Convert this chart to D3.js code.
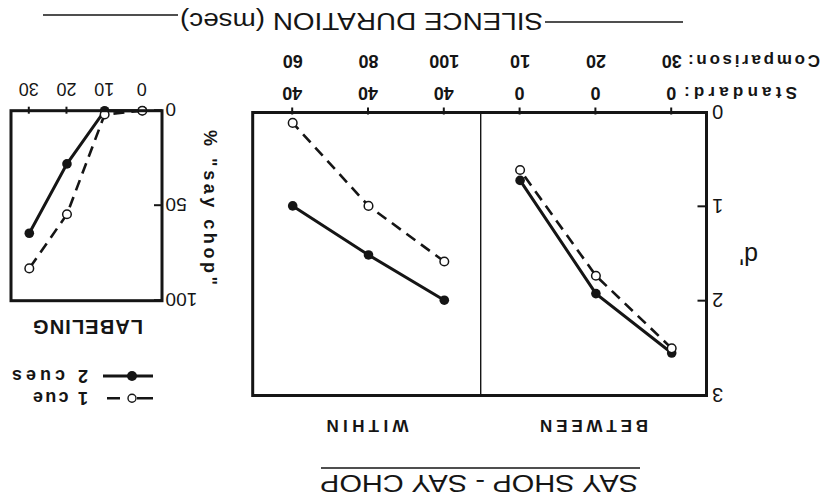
<!DOCTYPE html>
<html><head><meta charset="utf-8">
<script src="https://cdn.jsdelivr.net/npm/d3@7"></script>
<style>
body{margin:0;background:#fff}
svg{display:block;background:#fff}
text{font-family:"Liberation Sans",Arial,Helvetica,sans-serif;fill:#151515}
</style>
</head><body>
<svg id="c" width="839" height="501"></svg>
<script>
// ---- data ----
const mainKeys = ["B30","B20","B10","W100","W80","W60"];
const standardLabels = ["0","0","0","40","40","40"];
const comparisonLabels = ["30","20","10","100","80","60"];
const betweenKeys = ["B30","B20","B10"];
const withinKeys = ["W100","W80","W60"];
const betweenTwoCues = [2.55, 1.92, 0.72];
const betweenOneCue  = [2.50, 1.73, 0.61];
const withinTwoCues  = [1.99, 1.51, 0.99];
const withinOneCue   = [1.58, 0.99, 0.11];
const dPrimeTicks = [0, 1, 2, 3];
const labelKeys = ["0","10","20","30"];
const labelTwoCues = [0, 0, 28, 64.5];
const labelOneCue  = [0, 2, 54.5, 83];
const pctTicks = [0, 50, 100];
const panelNames = ["BETWEEN","WITHIN"];
const legendNames = ["2 cues","1 cue"];

// ---- drawing ----
const ink = "#151515";
const svg = d3.select("#c");
const g = svg.append("g").attr("transform","rotate(180 419.5 250.5)");

function styleAxis(ax){
  ax.attr("font-family",null).attr("font-size",null);
  ax.select(".domain").remove();
  ax.selectAll("line").attr("stroke",ink).attr("stroke-width",2);
  ax.selectAll("text").attr("fill",ink);
}

// main panel
const M = {l:132.5, r:586.3, t:105.5, b:388.5, div:358.3};
const x = d3.scalePoint().domain(mainKeys).range([167.3, 546.3]);
const y = d3.scaleLinear().domain([0,3]).range([M.b, M.t]);

const yAx = g.append("g").attr("transform",`translate(${M.l},0)`)
  .call(d3.axisLeft(y).tickValues(dPrimeTicks).tickFormat(d3.format("d")).tickSize(-9).tickPadding(5.5));
styleAxis(yAx);
yAx.selectAll("text").attr("font-size",20).attr("dy","0.36em");

const xAx = g.append("g").attr("transform",`translate(0,${M.b})`)
  .call(d3.axisBottom(x).tickSize(5).tickFormat(d => standardLabels[mainKeys.indexOf(d)]));
styleAxis(xAx);
xAx.selectAll("line").attr("y1",-2);
xAx.selectAll("text").attr("y",26).attr("dy",0).attr("font-size",18).attr("font-weight","bold");

g.selectAll("text.cmp").data(mainKeys).join("text").attr("class","cmp")
  .attr("x",d=>x(d)).attr("y",446).attr("text-anchor","middle")
  .attr("font-size",18).attr("font-weight","bold")
  .text((d,i)=>comparisonLabels[i]);

g.append("text").attr("x",42).attr("y",414.3).attr("font-size",17).attr("font-weight","bold")
  .attr("textLength",113).attr("lengthAdjust","spacing").text("Standard:");
g.append("text").attr("x",19).attr("y",446).attr("font-size",17).attr("font-weight","bold")
  .attr("textLength",132).attr("lengthAdjust","spacing").text("Comparison:");

const line = d3.line().x(d=>x(d.k)).y(d=>y(d.v));
const groups = [
  {keys:betweenKeys, two:betweenTwoCues, one:betweenOneCue},
  {keys:withinKeys, two:withinTwoCues, one:withinOneCue}
];
groups.forEach(gr=>{
  const two = gr.keys.map((k,i)=>({k, v:gr.two[i]}));
  g.append("path").datum(two).attr("d",line).attr("fill","none").attr("stroke",ink).attr("stroke-width",3);
  g.selectAll(null).data(two).join("circle").attr("cx",d=>x(d.k)).attr("cy",d=>y(d.v)).attr("r",4.8).attr("fill",ink);
});
groups.forEach(gr=>{
  const one = gr.keys.map((k,i)=>({k, v:gr.one[i]}));
  g.append("path").datum(one).attr("d",line).attr("fill","none").attr("stroke",ink).attr("stroke-width",2.6).attr("stroke-dasharray","11,7");
  g.selectAll(null).data(one).join("circle").attr("cx",d=>x(d.k)).attr("cy",d=>y(d.v)).attr("r",4.3).attr("fill","#fff").attr("stroke",ink).attr("stroke-width",1.5);
});

g.append("rect").attr("x",M.l).attr("y",M.t).attr("width",M.r-M.l).attr("height",M.b-M.t)
  .attr("fill","none").attr("stroke",ink).attr("stroke-width",3);
g.append("line").attr("x1",M.div).attr("x2",M.div).attr("y1",M.t).attr("y2",M.b).attr("stroke",ink).attr("stroke-width",1.4);

g.append("text").attr("x",81).attr("y",254).attr("font-size",25).text("d'");

g.append("text").attr("x",245).attr("y",81).attr("text-anchor","middle").attr("font-size",17).attr("font-weight","bold")
  .attr("textLength",108).attr("lengthAdjust","spacing").text(panelNames[0]);
g.append("text").attr("x",471.5).attr("y",81).attr("text-anchor","middle").attr("font-size",17).attr("font-weight","bold")
  .attr("textLength",82).attr("lengthAdjust","spacing").text(panelNames[1]);

// title top (upright)
g.append("text").attr("x",360).attr("y",26).attr("text-anchor","middle").attr("font-size",23)
  .attr("textLength",318).attr("lengthAdjust","spacingAndGlyphs").text("SAY SHOP - SAY CHOP");
g.append("line").attr("x1",199).attr("x2",518).attr("y1",33).attr("y2",33).attr("stroke",ink).attr("stroke-width",1.5);

// silence duration
g.append("text").attr("x",477.5).attr("y",488).attr("text-anchor","middle").attr("font-size",23)
  .attr("textLength",363).attr("lengthAdjust","spacingAndGlyphs").text("SILENCE DURATION (msec)");
g.append("line").attr("x1",156).attr("x2",294).attr("y1",479).attr("y2",479).attr("stroke",ink).attr("stroke-width",1.5);
g.append("line").attr("x1",661).attr("x2",796).attr("y1",486).attr("y2",486).attr("stroke",ink).attr("stroke-width",1.5);

// labeling panel
const L = {l:677, r:828, t:200.3, b:390.3};
const lx = d3.scalePoint().domain(labelKeys).range([696.7, 809.7]);
const ly = d3.scaleLinear().domain([0,100]).range([L.b, L.t]);

const lyAx = g.append("g").attr("transform",`translate(${L.l},0)`)
  .call(d3.axisLeft(ly).tickValues(pctTicks).tickSize(-8).tickPadding(3.5));
styleAxis(lyAx);
lyAx.selectAll("text").attr("font-size",19).attr("dy","0.36em");

const lxAx = g.append("g").attr("transform",`translate(0,${L.b})`)
  .call(d3.axisBottom(lx).tickSize(4));
styleAxis(lxAx);
lxAx.selectAll("line").attr("y1",-3);
lxAx.selectAll("text").attr("y",27.7).attr("dy",0).attr("font-size",18);

const lline = d3.line().x(d=>lx(d.k)).y(d=>ly(d.v));
const lTwo = labelKeys.map((k,i)=>({k, v:labelTwoCues[i]}));
const lOne = labelKeys.map((k,i)=>({k, v:labelOneCue[i]}));
g.append("path").datum(lTwo).attr("d",lline).attr("fill","none").attr("stroke",ink).attr("stroke-width",3);
g.selectAll(null).data(lTwo).join("circle").attr("cx",d=>lx(d.k)).attr("cy",d=>ly(d.v)).attr("r",4.8).attr("fill",ink);
g.append("path").datum(lOne).attr("d",lline).attr("fill","none").attr("stroke",ink).attr("stroke-width",2.6).attr("stroke-dasharray","11,7");
g.selectAll(null).data(lOne).join("circle").attr("cx",d=>lx(d.k)).attr("cy",d=>ly(d.v)).attr("r",4.3).attr("fill","#fff").attr("stroke",ink).attr("stroke-width",1.5);

g.append("rect").attr("x",L.l).attr("y",L.t).attr("width",L.r-L.l).attr("height",L.b-L.t)
  .attr("fill","none").attr("stroke",ink).attr("stroke-width",3);

g.append("text").attr("transform","translate(629,293.5) rotate(-90)").attr("text-anchor","middle")
  .attr("dy","0.35em").attr("font-size",18).attr("font-weight","bold")
  .attr("textLength",155).attr("lengthAdjust","spacing").text('% "say chop"');

g.append("text").attr("x",751).attr("y",181).attr("text-anchor","middle").attr("font-size",20).attr("font-weight","bold")
  .attr("textLength",110).attr("lengthAdjust","spacing").text("LABELING");

// legend
g.append("line").attr("x1",686).attr("x2",736).attr("y1",125).attr("y2",125).attr("stroke",ink).attr("stroke-width",3);
g.append("circle").attr("cx",707).attr("cy",125).attr("r",5).attr("fill",ink);
g.append("text").attr("x",751).attr("y",131).attr("font-size",18).attr("font-weight","bold")
  .attr("textLength",76).attr("lengthAdjust","spacing").text(legendNames[0]);
g.append("line").attr("x1",686).attr("x2",732).attr("y1",102.7).attr("y2",102.7).attr("stroke",ink).attr("stroke-width",2.6).attr("stroke-dasharray","16,17,13");
g.append("circle").attr("cx",707).attr("cy",102.7).attr("r",4).attr("fill","#fff").attr("stroke",ink).attr("stroke-width",1.4);
g.append("text").attr("x",751).attr("y",108.7).attr("font-size",18).attr("font-weight","bold")
  .attr("textLength",55).attr("lengthAdjust","spacing").text(legendNames[1]);
</script>
</body></html>
